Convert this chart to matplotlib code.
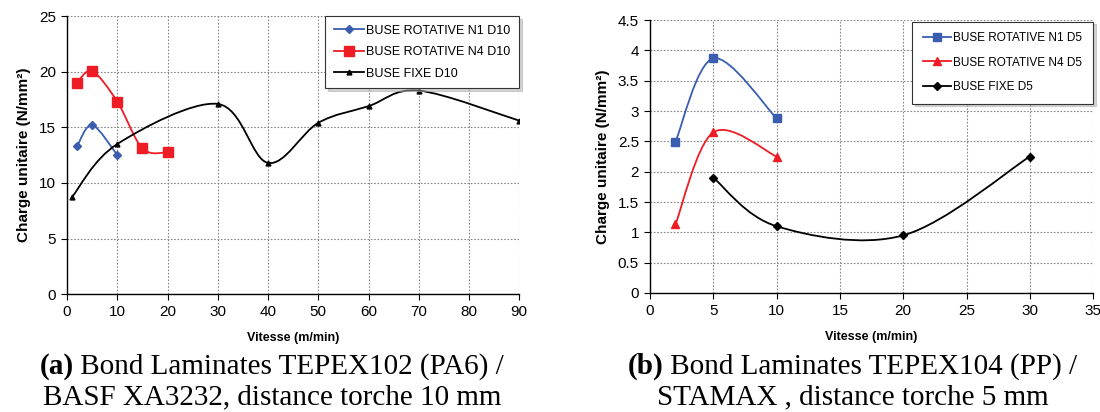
import numpy as np
import matplotlib
matplotlib.use('Agg')
import matplotlib.pyplot as plt
from matplotlib.path import Path
from matplotlib.patches import PathPatch
from matplotlib.lines import Line2D

plt.rcParams['font.family'] = ['Liberation Sans', 'DejaVu Sans']

# (a) TEPEX102 (PA6) / BASF XA3232, distance torche 10 mm
a_n1_x = [2, 5, 10]
a_n1_y = [13.3, 15.2, 12.5]
a_n4_x = [2, 5, 10, 15, 20]
a_n4_y = [19.0, 20.05, 17.3, 13.1, 12.75]
a_fixe_x = [1, 10, 30, 40, 50, 60, 70, 90]
a_fixe_y = [8.75, 13.5, 17.1, 11.8, 15.4, 16.9, 18.3, 15.6]

# (b) TEPEX104 (PP) / STAMAX, distance torche 5 mm
b_n1_x = [2, 5, 10]
b_n1_y = [2.49, 3.87, 2.88]
b_n4_x = [2, 5, 10]
b_n4_y = [1.13, 2.65, 2.25]
b_fixe_x = [5, 10, 20, 30]
b_fixe_y = [1.9, 1.1, 0.95, 2.25]

BLUE = '#3a5db0'
RED = '#ee1c24'
BLACK = '#000000'


def smooth_path(xs, ys):
    """Excel-style smoothed line as cubic Bezier path through the points."""
    p = np.column_stack([xs, ys]).astype(float)
    n = len(p)
    verts = [p[0]]
    codes = [Path.MOVETO]
    for i in range(n - 1):
        p_prev = p[i - 1] if i > 0 else p[i]
        p_next = p[i + 2] if i + 2 < n else p[i + 1]
        c1 = p[i] + (p[i + 1] - p_prev) / 6.0
        c2 = p[i + 1] - (p_next - p[i]) / 6.0
        verts += [c1, c2, p[i + 1]]
        codes += [Path.CURVE4] * 3
    return Path(verts, codes)


def draw_series(ax, xs, ys, color, marker, ms, label):
    ax.add_patch(PathPatch(smooth_path(xs, ys), facecolor='none',
                           edgecolor=color, linewidth=1.3, zorder=3))
    ax.plot(xs, ys, linestyle='none', marker=marker, color=color,
            markersize=ms, zorder=4)
    return Line2D([], [], color=color, marker=marker, markersize=ms,
                  linewidth=1.3, label=label)


def style_axes(ax, xlim, ylim, xticks, yticks):
    ax.set_xlim(*xlim)
    ax.set_ylim(*ylim)
    ax.set_xticks(xticks)
    ax.set_yticks(yticks)
    ax.grid(True, linestyle=(0, (1.5, 1.5)), color='#888888', linewidth=0.8)
    ax.set_axisbelow(True)
    for s in ['top', 'right']:
        ax.spines[s].set_visible(False)
    ax.spines['left'].set_linewidth(1.0)
    ax.spines['bottom'].set_linewidth(1.0)
    ax.tick_params(direction='out', length=4, labelsize=11, pad=4)
    ax.set_xlabel('Vitesse (m/min)', fontsize=9, fontweight='bold', labelpad=9)
    ax.set_ylabel('Charge unitaire (N/mm²)', fontsize=11, fontweight='bold',
                  labelpad=6)


def add_legend(ax, handles, bbox, fs, spacing, bpad):
    leg = ax.legend(handles=handles, loc='upper right', bbox_to_anchor=bbox,
                    fontsize=fs, frameon=True, fancybox=False,
                    shadow={'color': '#aaaaaa', 'alpha': 0.5},
                    handlelength=2.4, handletextpad=0.2, borderpad=bpad,
                    labelspacing=spacing, borderaxespad=0)
    leg.get_frame().set_edgecolor('#333333')
    leg.get_frame().set_linewidth(0.8)


fig = plt.figure(figsize=(11, 4.12), dpi=100)

ax1 = fig.add_axes([0.061, 0.286, 0.411, 0.675])
style_axes(ax1, (0, 90), (0, 25), range(0, 91, 10), range(0, 26, 5))
h = [draw_series(ax1, a_n1_x, a_n1_y, BLUE, 'D', 4.5, 'BUSE ROTATIVE N1 D10'),
     draw_series(ax1, a_n4_x, a_n4_y, RED, 's', 6.5, 'BUSE ROTATIVE N4 D10'),
     draw_series(ax1, a_fixe_x, a_fixe_y, BLACK, '^', 3.5, 'BUSE FIXE D10')]
add_legend(ax1, h, (1.0, 1.0), 9, 0.75, 0.7)

ax2 = fig.add_axes([0.591, 0.289, 0.4027, 0.662])
style_axes(ax2, (0, 35), (0, 4.5), range(0, 36, 5), np.arange(0, 4.51, 0.5))
ax2.set_yticklabels(['0', '0.5', '1', '1.5', '2', '2.5', '3', '3.5', '4', '4.5'])
h = [draw_series(ax2, b_n1_x, b_n1_y, BLUE, 's', 6, 'BUSE ROTATIVE N1 D5'),
     draw_series(ax2, b_n4_x, b_n4_y, RED, '^', 6, 'BUSE ROTATIVE N4 D5'),
     draw_series(ax2, b_fixe_x, b_fixe_y, BLACK, 'D', 4.5, 'BUSE FIXE D5')]
add_legend(ax2, h, (1.0, 0.995), 8.5, 1.05, 0.9)

serif = dict(fontsize=21, family=['Liberation Serif', 'DejaVu Serif'])
# first caption line: bold label then normal text, centred as a pair
for cx, bold, rest, line2 in [
        (0.247, '(a)', 'Bond Laminates TEPEX102 (PA6) /',
         'BASF XA3232, distance torche 10 mm'),
        (0.775, '(b)', 'Bond Laminates TEPEX104 (PP) /',
         'STAMAX , distance torche 5 mm')]:
    t1 = fig.text(0, 0.093, bold, fontweight='bold', ha='left', **serif)
    t2 = fig.text(0, 0.093, ' ' + rest, ha='left', **serif)
    fig.canvas.draw()
    inv = fig.transFigure.inverted()
    w1 = t1.get_window_extent().transformed(inv).width
    w2 = t2.get_window_extent().transformed(inv).width
    x0 = cx - (w1 + w2) / 2
    t1.set_x(x0)
    t2.set_x(x0 + w1)
    fig.text(cx, 0.018, line2, ha='center', **serif)

fig.savefig('out.png', dpi=100)
